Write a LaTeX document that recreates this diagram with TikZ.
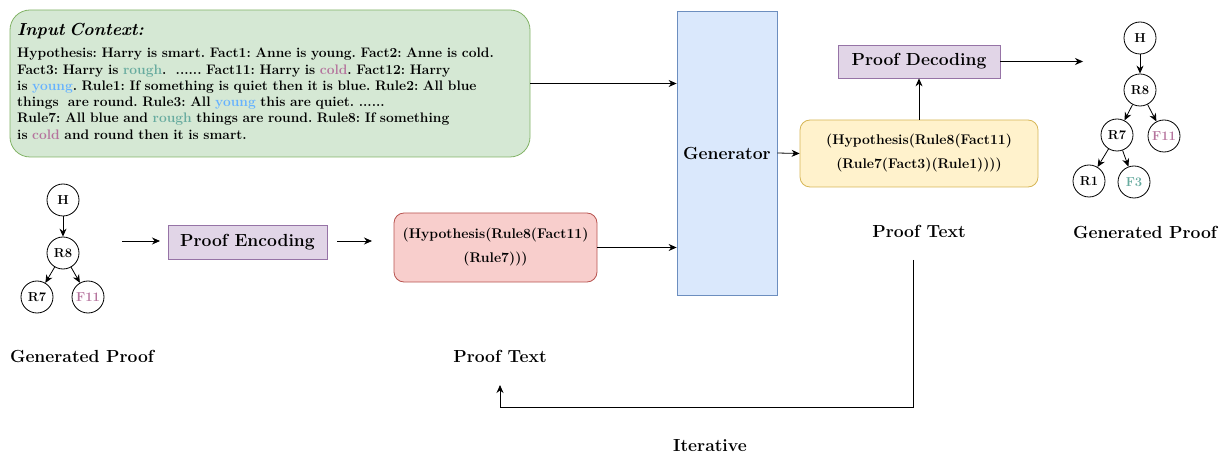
\documentclass[tikz,border=0pt]{standalone}
\usetikzlibrary{arrows.meta}
\definecolor{gfill}{HTML}{D5E8D4}\definecolor{gline}{HTML}{82B366}
\definecolor{bfill}{HTML}{DAE8FC}\definecolor{bline}{HTML}{6C8EBF}
\definecolor{pfill}{HTML}{E1D5E7}\definecolor{pline}{HTML}{9673A6}
\definecolor{rfill}{HTML}{F8CECC}\definecolor{rline}{HTML}{B85450}
\definecolor{yfill}{HTML}{FFF2CC}\definecolor{yline}{HTML}{D6B656}
\definecolor{rough}{HTML}{67AB9F}\definecolor{cold}{HTML}{B5739D}\definecolor{young}{HTML}{66B2FF}
\begin{document}
\frenchspacing
\begin{tikzpicture}[x=1pt,y=-1pt,font=\bfseries,
  >={Stealth[length=8pt,width=7pt]},
  conn/.style={->,line width=0.8pt},
  treenode/.style={circle,draw,line width=0.8pt,minimum size=32pt,inner sep=0pt,font=\bfseries\fontsize{13}{14}\selectfont},
  lbl/.style={font=\bfseries\fontsize{17.5}{20}\selectfont},
  procbox/.style={draw=pline,fill=pfill,line width=0.8pt,font=\bfseries\fontsize{17.5}{20}\selectfont,inner sep=0pt},
  codebox/.style={rounded corners=10pt,line width=0.8pt,align=center,inner sep=0pt,font=\bfseries\fontsize{14}{24}\selectfont}]
\useasboundingbox (0,0) rectangle (1220,454);

% input context
\node[draw=gline,fill=gfill,rounded corners=20pt,line width=0.8pt,minimum width=520pt,minimum height=147pt,inner sep=0pt] (ctx) at (270,83.5) {};
\node[anchor=north west,text width=508pt,align=left,inner sep=0pt,font=\bfseries\fontsize{13.8}{16.3}\selectfont] (ctxtext) at (17,23)
{{\fontsize{17.4}{16.3}\selectfont\itshape Input Context:}\\[6pt]
Hypothesis: Harry is smart. Fact1: Anne is young. Fact2: Anne is cold.\\
Fact3: Harry is \textcolor{rough}{rough}. \ ...... Fact11: Harry is \textcolor{cold}{cold}. Fact12: Harry\\
is \textcolor{young}{young}. Rule1: If something is quiet then it is blue. Rule2: All blue\\
things \ are round. Rule3: All \textcolor{young}{young} this are quiet. ......\\
Rule7: All blue and \textcolor{rough}{rough} things are round. Rule8: If something\\
is \textcolor{cold}{cold} and round then it is smart.};

% generator
\node[draw=bline,fill=bfill,line width=0.8pt,minimum width=100pt,minimum height=284pt,inner sep=0pt,
  font=\bfseries\fontsize{17.5}{20}\selectfont] (gen) at (727,153) {Generator};

% left tree
\node[treenode] (lH) at (63,200) {H};
\node[treenode] (lR8) at (63,253) {R8};
\node[treenode] (lR7) at (37,297) {R7};
\node[treenode,text=cold] (lF11) at (88,297) {F11};
\draw[conn] (lH) -- (lR8);
\draw[conn] (lR8) -- (lR7);
\draw[conn] (lR8) -- (lF11);
\node[lbl] (lgp) at (82,356) {Generated Proof};

% encoding
\coordinate (e1) at (122,241); \coordinate (e2) at (160,241);
\draw[conn] (e1) -- (e2);
\node[procbox,minimum width=159pt,minimum height=34pt] (enc) at (247.5,242) {Proof Encoding};
\coordinate (e3) at (337,241); \coordinate (e4) at (372,241);
\draw[conn] (e3) -- (e4);

\node[codebox,draw=rline,fill=rfill,minimum width=203pt,minimum height=69pt] (red) at (495.5,247.5)
{(Hypothesis(Rule8(Fact11)\\(Rule7)))};
\node[lbl] (pt1) at (500,356) {Proof Text};

\draw[conn] (ctx.east) -- (ctx.east -| gen.west);
\draw[conn] (red.east) -- (red.east -| gen.west);

% right side
\node[codebox,draw=yline,fill=yfill,minimum width=238pt,minimum height=67pt] (yel) at (919,153.5)
{(Hypothesis(Rule8(Fact11)\\(Rule7(Fact3)(Rule1))))};
\draw[conn] (gen.east) -- (yel.west);
\node[procbox,minimum width=162pt,minimum height=33pt] (dec) at (919,61.5) {Proof Decoding};
\draw[conn] (yel.north) -- (dec.south);
\coordinate (d2) at (1083,61.5);
\draw[conn] (dec.east) -- (d2);
\node[lbl] (pt2) at (919,231) {Proof Text};

\node[treenode] (rH) at (1140,38) {H};
\node[treenode] (rR8) at (1140,90) {R8};
\node[treenode] (rR7) at (1117,135) {R7};
\node[treenode,text=cold] (rF11) at (1164,136) {F11};
\node[treenode] (rR1) at (1089,181) {R1};
\node[treenode,text=rough] (rF3) at (1134,182) {F3};
\draw[conn] (rH) -- (rR8);
\draw[conn] (rR8) -- (rR7);
\draw[conn] (rR8) -- (rF11);
\draw[conn] (rR7) -- (rR1);
\draw[conn] (rR7) -- (rF3);
\node[lbl] (rgp) at (1145,232) {Generated Proof};

% iterative loop
\coordinate (it1) at (913,260);
\coordinate (it2) at (500,385);
\draw[conn] (it1) -- (913,407) -| (it2);
\node[lbl] (iter) at (710,446) {Iterative};
\end{tikzpicture}
\end{document}
